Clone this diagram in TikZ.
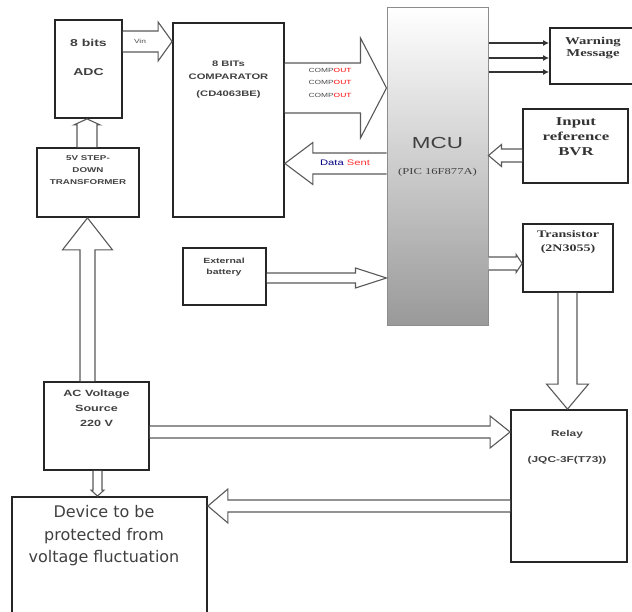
\documentclass[tikz,border=0pt]{standalone}
\usepackage{fontspec}
\setmainfont[FakeStretch=1.4]{Liberation Serif}
\newfontfamily\arialf[FakeStretch=1.4]{Liberation Sans}
\newfontfamily\dejavu{DejaVu Sans}
\usetikzlibrary{arrows.meta,calc}

\newcommand{\hblock}[5]{%
  \draw[block] let \p1=(#1), \p2=(#2), \n1={ifthenelse(\x2>\x1,1,-1)} in
    (\x1,{\y1+#3}) -- ({\x2-(\n1)*#5},{\y1+#3}) -- ({\x2-(\n1)*#5},{\y1+#4}) -- (\x2,\y1)
    -- ({\x2-(\n1)*#5},{\y1-#4}) -- ({\x2-(\n1)*#5},{\y1-#3}) -- (\x1,{\y1-#3});}
\newcommand{\vblock}[5]{%
  \draw[block] let \p1=(#1), \p2=(#2), \n1={ifthenelse(\y2>\y1,1,-1)} in
    ({\x1+#3},\y1) -- ({\x1+#3},{\y2-(\n1)*#5}) -- ({\x1+#4},{\y2-(\n1)*#5}) -- (\x1,\y2)
    -- ({\x1-#4},{\y2-(\n1)*#5}) -- ({\x1-#3},{\y2-(\n1)*#5}) -- ({\x1-#3},\y1);}

\begin{document}
\begin{tikzpicture}[x=1pt,y=-1pt,
  box/.style={draw=black!85,line width=1.8pt,inner sep=0pt},
  block/.style={draw=black!65,line width=1.1pt,fill=white,line join=miter},
  lbl/.style={align=center,text=black!80,font=\bfseries\fontsize{10.5}{12}\selectfont},
  slbl/.style={align=center,text=black!75,font=\arialf\bfseries\fontsize{7}{12}\selectfont},
  tiny/.style={text=black!70,font=\arialf\fontsize{6}{6}\selectfont,inner sep=0pt}]
  \useasboundingbox (0,0) rectangle (632,612);
  \clip (0,0) rectangle (632,612);

  \node[box,minimum width=67,minimum height=98] (adc) at (88.5,69) {};
  \node[box,minimum width=111,minimum height=194] (comp) at (228.5,120) {};
  \node[draw=black!45,line width=1pt,top color=white,bottom color=black!40,
        minimum width=101,minimum height=318] (mcu) at (437.5,167) {};
  \node[box,minimum width=110,minimum height=56] (warn) at (605,56) {};
  \node[box,minimum width=105,minimum height=74] (bvr) at (575.5,146) {};
  \node[box,minimum width=83,minimum height=57] (bat) at (224.5,276.5) {};
  \node[box,minimum width=90,minimum height=68] (trans) at (568,258) {};
  \node[box,minimum width=102,minimum height=69] (xfmr) at (88,182.5) {};
  \node[box,minimum width=105,minimum height=88] (ac) at (96.5,426) {};
  \node[box,minimum width=116,minimum height=152] (relay) at (569,486) {};
  \node[box,minimum width=195,minimum height=130] (dev) at (109.5,562) {};

  \node[slbl,font=\arialf\bfseries\fontsize{10}{29}\selectfont] at (88.5,57) {8 bits\\ADC};
  \node[slbl,anchor=north,font=\arialf\bfseries\fontsize{8}{13}\selectfont] at (228.5,57) {8 BITs\\COMPARATOR\\[4pt](CD4063BE)};
  \node[text=black!75,font=\arialf\fontsize{16}{18}\selectfont] at (437.5,143) {MCU};
  \node[text=black!75,font=\fontsize{9}{10}\selectfont] at (437.5,172) {(PIC 16F877A)};
  \node[lbl] at (593,48) {Warning\\Message};
  \node[lbl,font=\bfseries\fontsize{12}{15}\selectfont] at (576,137) {Input\\reference\\BVR};
  \node[slbl,font=\arialf\bfseries\fontsize{7.5}{11}\selectfont] at (224,267.5) {External\\battery};
  \node[lbl,font=\bfseries\fontsize{10}{14}\selectfont] at (568,242) {Transistor\\(2N3055)};
  \node[slbl] at (88,170) {5V STEP-\\DOWN\\TRANSFORMER};
  \node[slbl,font=\arialf\bfseries\fontsize{9}{15}\selectfont] at (96.5,408) {AC Voltage\\Source\\220 V};
  \node[slbl,font=\arialf\bfseries\fontsize{8.5}{12}\selectfont] at (567,447.5) {Relay\\[14pt](JQC-3F(T73))};
  \node[text=black!75,align=center,font=\dejavu\fontsize{16}{22.5}\selectfont] at (104,536) {Device to be\\protected from\\voltage fluctuation};

  \hblock{adc.east |- 0,41.5}{comp.west}{10.5pt}{19.5pt}{14pt}
  \node[tiny] at (140,41) {Vin};
  \hblock{comp.east |- 0,88}{mcu.west}{25pt}{50pt}{26pt}
  \foreach \yy in {70,82,95}
    \node[tiny] at (330,\yy) {COMP\textcolor{red}{OUT}};
  \hblock{mcu.west |- 0,163.5}{comp.east}{10.5pt}{21pt}{28pt}
  \node[text=black!70,font=\arialf\fontsize{8}{8}\selectfont,inner sep=0pt] at (345,163) {\textcolor{blue!50!black}{Data} \textcolor{red!80}{Sent}};
  \hblock{bvr.west |- 0,155.5}{mcu.east}{6.5pt}{11pt}{13pt}
  \hblock{bat.east |- 0,278}{mcu.west}{5pt}{10pt}{31pt}
  \hblock{mcu.east |- 0,263.5}{trans.west}{6.5pt}{9pt}{6pt}
  \vblock{trans.south -| 567.5,0}{relay.north}{9.5pt}{21pt}{25pt}
  \vblock{ac.north -| 87.5,0}{xfmr.south}{7.5pt}{25pt}{32pt}
  \vblock{xfmr.north -| 87,0}{adc.south}{10pt}{13pt}{6pt}
  \hblock{ac.east |- 0,432}{relay.west}{6pt}{16pt}{20pt}
  \hblock{relay.west |- 0,506}{dev.east}{6pt}{17pt}{20pt}
  \vblock{ac.south -| 97.5,0}{dev.north}{4.5pt}{6.5pt}{6pt}

  \foreach \yy in {43,58,72}
    \draw[black!80,line width=1.4pt,-{Latex[length=6pt,width=6pt]}] (mcu.east |- 0,\yy) -- (warn.west |- 0,\yy);
\end{tikzpicture}
\end{document}
